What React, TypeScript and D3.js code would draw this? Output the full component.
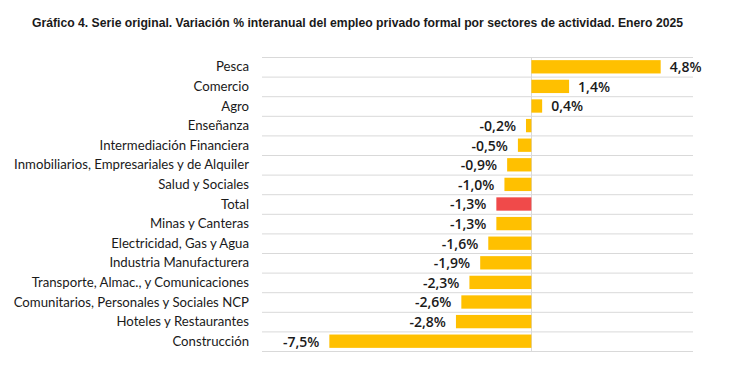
import React, { useEffect, useRef } from 'react';
import * as d3 from 'd3';

const title =
  'Gráfico 4. Serie original. Variación % interanual del empleo privado formal por sectores de actividad. Enero 2025';

const sectors = [
  'Pesca',
  'Comercio',
  'Agro',
  'Enseñanza',
  'Intermediación Financiera',
  'Inmobiliarios, Empresariales y de Alquiler',
  'Salud y Sociales',
  'Total',
  'Minas y Canteras',
  'Electricidad, Gas y Agua',
  'Industria Manufacturera',
  'Transporte, Almac., y Comunicaciones',
  'Comunitarios, Personales y Sociales NCP',
  'Hoteles y Restaurantes',
  'Construcción',
];

const values = [4.8, 1.4, 0.4, -0.2, -0.5, -0.9, -1.0, -1.3, -1.3, -1.6, -1.9, -2.3, -2.6, -2.8, -7.5];

const highlight = 'Total';

function App() {
  const ref = useRef(null);

  useEffect(() => {
    const width = 734;
    const height = 371;
    const plotLeft = 262;
    const plotRight = 693;
    const plotTop = 57;
    const plotBottom = 351;

    const svg = d3.select(ref.current);
    svg.selectAll('*').remove();

    const x = d3.scaleLinear().domain([-10, 6]).range([plotLeft, plotRight]);
    const y = d3
      .scaleBand()
      .domain(sectors)
      .range([plotTop, plotBottom])
      .paddingInner(0.32)
      .paddingOuter(0.16);

    const data = sectors.map((s, i) => ({ name: s, value: values[i] }));
    // hyphen minus and decimal comma, like the original
    const fmt = (v) => (v < 0 ? '-' : '') + Math.abs(v).toFixed(1).replace('.', ',') + '%';

    // title is condensed in the original, squeeze it to the same width
    svg
      .append('text')
      .attr('x', 32)
      .attr('y', 27)
      .attr('font-family', '"Liberation Sans", Arial, sans-serif')
      .attr('font-weight', 'bold')
      .attr('font-size', 12.2)
      .attr('textLength', 651)
      .attr('lengthAdjust', 'spacingAndGlyphs')
      .attr('fill', '#1a1a1a')
      .text(title);

    // row separators
    const step = (plotBottom - plotTop) / sectors.length;
    svg
      .append('g')
      .selectAll('line')
      .data(d3.range(sectors.length + 1))
      .join('line')
      .attr('x1', plotLeft)
      .attr('x2', plotRight)
      .attr('y1', (i) => plotTop + i * step + 0.5)
      .attr('y2', (i) => plotTop + i * step + 0.5)
      .attr('stroke', '#d9d9d9')
      .attr('stroke-width', 1);

    svg
      .append('line')
      .attr('x1', Math.round(x(0)) + 0.5)
      .attr('x2', Math.round(x(0)) + 0.5)
      .attr('y1', plotTop)
      .attr('y2', plotBottom + 1)
      .attr('stroke', '#d9d9d9');

    svg
      .append('g')
      .selectAll('rect')
      .data(data)
      .join('rect')
      .attr('x', (d) => x(Math.min(0, d.value)))
      .attr('width', (d) => Math.abs(x(d.value) - x(0)))
      .attr('y', (d) => y(d.name))
      .attr('height', y.bandwidth())
      .attr('fill', (d) => (d.name === highlight ? '#f04a4a' : '#ffc000'));

    // category labels
    svg
      .append('g')
      .selectAll('text')
      .data(data)
      .join('text')
      .attr('x', 249)
      .attr('y', (d) => y(d.name) + y.bandwidth() / 2)
      .attr('dy', '0.35em')
      .attr('text-anchor', 'end')
      .attr('font-family', 'Lato, sans-serif')
      .attr('font-size', 13.2)
      .attr('fill', '#1a1a1a')
      .text((d) => d.name);

    // value labels
    svg
      .append('g')
      .selectAll('text')
      .data(data)
      .join('text')
      .attr('x', (d) => (d.value >= 0 ? x(d.value) + 9 : x(d.value) - 10))
      .attr('y', (d) => y(d.name) + y.bandwidth() / 2)
      .attr('dy', '0.38em')
      .attr('text-anchor', (d) => (d.value >= 0 ? 'start' : 'end'))
      .attr('font-family', '"Open Sans", sans-serif')
      .attr('font-weight', 600)
      .attr('font-size', 14)
      .attr('fill', '#1a1a1a')
      .text((d) => fmt(d.value));

    svg.attr('width', width).attr('height', height);
  }, []);

  return (
    <div style={{ position: 'absolute', left: 0, top: 0, background: '#fff' }}>
      <svg ref={ref} width={734} height={371} style={{ display: 'block' }} />
    </div>
  );
}

export default App;
